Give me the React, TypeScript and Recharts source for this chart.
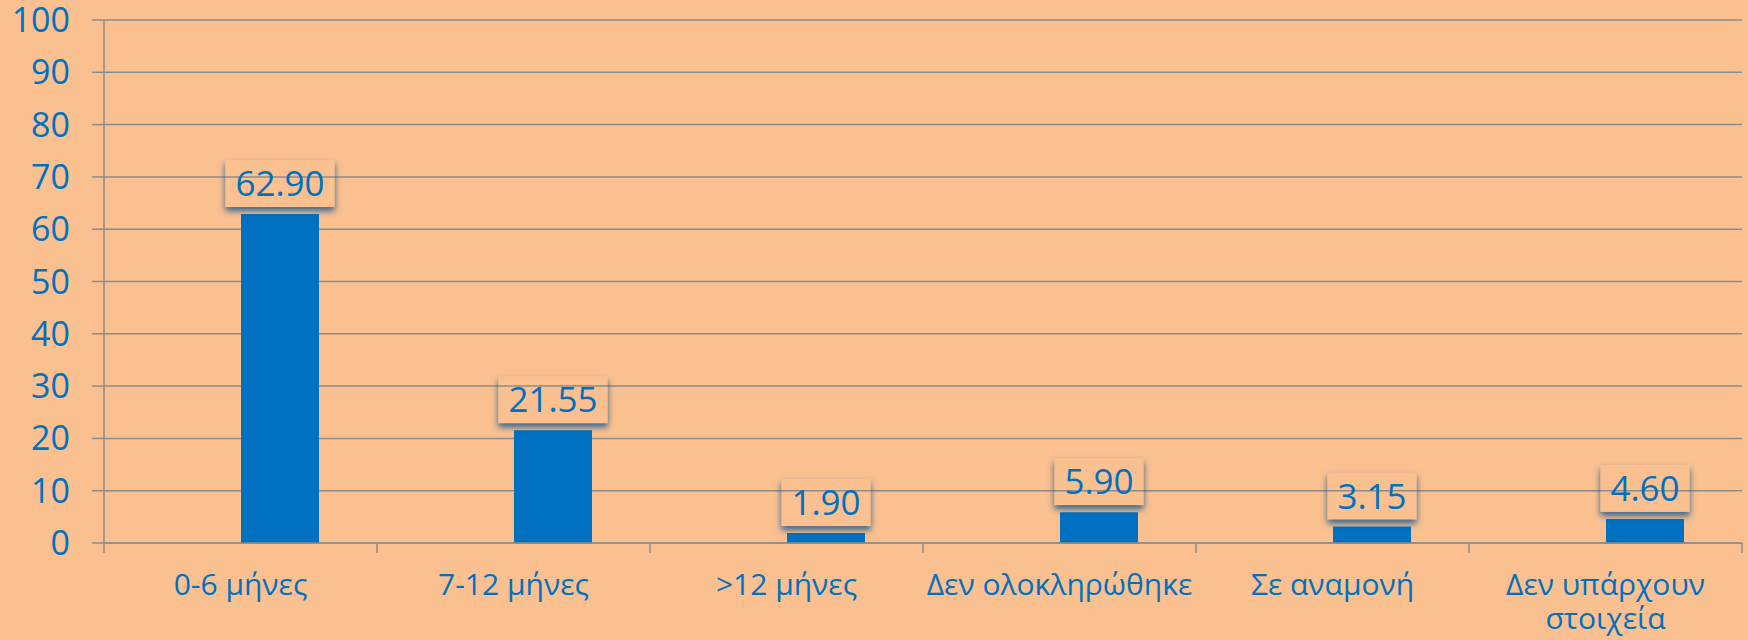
import { Bar, BarChart, CartesianGrid, LabelList, XAxis, YAxis } from "recharts";

const BG = "#FAC090";
const BLUE = "#0070C0";
const GRID = "#8C8C8C";
const FONT = "'Open Sans', 'Noto Sans', sans-serif";

const categories = [
  "0-6 μήνες",
  "7-12 μήνες",
  ">12 μήνες",
  "Δεν ολοκληρώθηκε",
  "Σε αναμονή",
  "Δεν υπάρχουν\nστοιχεία",
];
const shares = [62.9, 21.55, 1.9, 5.9, 3.15, 4.6];
// the source chart has an empty first series, which pushes the bars right of centre
const blank = [null, null, null, null, null, null];
const yTicks = [0, 10, 20, 30, 40, 50, 60, 70, 80, 90, 100];

const data = categories.map((cat, i) => ({ cat, blank: blank[i], share: shares[i] }));

function CatTick(props: any) {
  const { x, y, payload, index } = props;
  const half = payload?.offset || 136.5;
  const lines = String(payload.value).split("\n");
  const last = index === categories.length - 1;
  return (
    <g>
      <line x1={x - half} y1={y} x2={x - half} y2={y + 10} stroke={GRID} strokeWidth={1.5} />
      {last && <line x1={x + half} y1={y} x2={x + half} y2={y + 10} stroke={GRID} strokeWidth={1.5} />}
      {lines.map((t, i) => (
        <text
          key={i}
          x={x}
          y={y + 52 + i * 34}
          textAnchor="middle"
          fill={BLUE}
          fontSize={30}
          fontFamily={FONT}
        >
          {t}
        </text>
      ))}
    </g>
  );
}

function ValueTag(props: any) {
  const { x, y, width, value } = props;
  if (value == null) return null;
  const txt = Number(value).toFixed(2);
  const fs = 35;
  const tw = [...txt].reduce((s, c) => s + (c === "." ? 0.27 : 0.572), 0) * fs;
  const bw = tw + 20;
  const cx = x + width / 2;
  const bottom = y - 7;
  return (
    <g>
      <rect x={cx - bw / 2} y={bottom - 47} width={bw} height={47} fill="#000" filter="url(#tagShadow)" />
      <text x={cx} y={bottom - 11} textAnchor="middle" fill={BLUE} fontSize={fs} fontFamily={FONT}>
        {txt}
      </text>
    </g>
  );
}

export default function App() {
  document.body.style.margin = "0";
  return (
    <div style={{ width: 1748, height: 640, background: BG }}>
      <BarChart
        width={1748}
        height={640}
        data={data}
        margin={{ top: 20, right: 6, bottom: 0, left: 0 }}
        barSize={78}
        barGap={0}
      >
        <defs>
          <filter id="tagShadow" x="-30%" y="-40%" width="160%" height="180%">
            <feGaussianBlur in="SourceAlpha" stdDeviation="3" result="blur" />
            <feOffset in="blur" dx="0" dy="4" result="off" />
            <feComposite in="off" in2="SourceAlpha" operator="out" result="outer" />
            <feFlood floodColor="#0a4f8f" floodOpacity="0.8" />
            <feComposite in2="outer" operator="in" />
          </filter>
        </defs>
        <CartesianGrid vertical={false} stroke={GRID} strokeWidth={1.5} />
        <XAxis
          dataKey="cat"
          height={97}
          interval={0}
          tickSize={0}
          tickMargin={0}
          tickLine={false}
          axisLine={{ stroke: GRID, strokeWidth: 1.5 }}
          tick={<CatTick />}
        />
        <YAxis
          width={104}
          domain={[0, 100]}
          ticks={yTicks}
          interval={0}
          tickSize={12}
          tickMargin={22}
          axisLine={{ stroke: GRID, strokeWidth: 1.5 }}
          tickLine={{ stroke: GRID, strokeWidth: 1.5 }}
          tick={{ fill: BLUE, fontSize: 34, fontFamily: FONT }}
        />
        <Bar dataKey="blank" fill={BLUE} isAnimationActive={false} />
        <Bar dataKey="share" fill={BLUE} isAnimationActive={false}>
          <LabelList dataKey="share" content={<ValueTag />} />
        </Bar>
      </BarChart>
    </div>
  );
}
